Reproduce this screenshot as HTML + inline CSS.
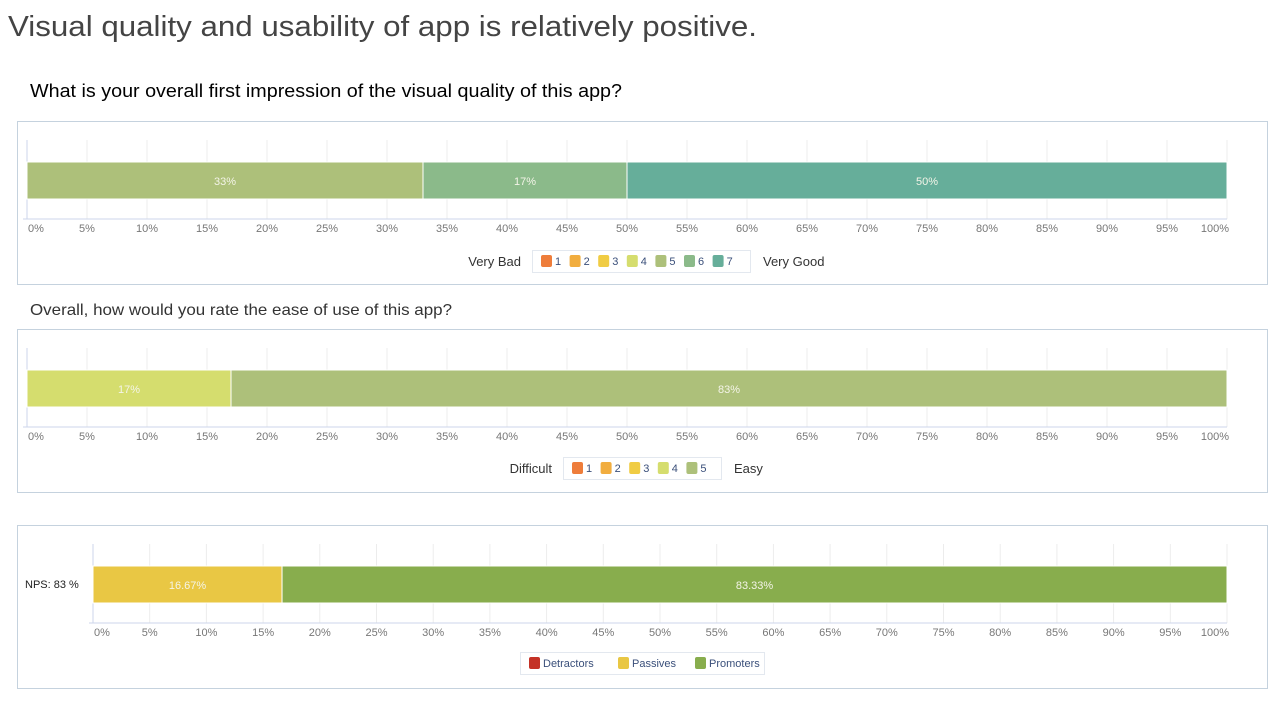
<!DOCTYPE html>
<html><head><meta charset="utf-8"><style>
body{margin:0;width:1288px;height:707px;background:#fff;overflow:hidden;font-family:"Liberation Sans",sans-serif}
svg{display:block}
</style></head><body>
<svg id="s" width="1288" height="707" xmlns="http://www.w3.org/2000/svg">
<text x="8" y="36" font-size="29" fill="#444" textLength="749" lengthAdjust="spacingAndGlyphs">Visual quality and usability of app is relatively positive.</text>
<text x="30" y="97" font-size="18" fill="#000" textLength="592" lengthAdjust="spacingAndGlyphs">What is your overall first impression of the visual quality of this app?</text>
<text x="30" y="315" font-size="16" fill="#333" textLength="422" lengthAdjust="spacingAndGlyphs">Overall, how would you rate the ease of use of this app?</text>
</svg>
<script>
// chart 1
const q1Values=[0,0,0,0,33,17,50];
const q1Labels=["33%","17%","50%"];
const q1Legend=["1","2","3","4","5","6","7"];
// chart 2
const q2Values=[0,0,0,17,83];
const q2Legend=["1","2","3","4","5"];
// chart 3
const npsValues=[0,16.67,83.33];
const npsLegend=["Detractors","Passives","Promoters"];
const ticks=[0,5,10,15,20,25,30,35,40,45,50,55,60,65,70,75,80,85,90,95,100];

const scaleColors=["#ee7d3b","#f1ad3f","#f0cc44","#d5dd6e","#adc07a","#8bba8a","#66ae9a"];
const npsColors=["#c43226","#e9c744","#88ad4d"];
const NS="http://www.w3.org/2000/svg";
const svg=document.getElementById('s');
function el(tag,attrs,parent){const e=document.createElementNS(NS,tag);for(const k in attrs)e.setAttribute(k,attrs[k]);(parent||svg).appendChild(e);return e;}

function chart(cfg){
  const g=el('g',{});
  
  
  const p=el('rect',{x:17.5,y:cfg.top+0.5,width:1250,height:163,fill:'#fff',stroke:'#c5d2de'},g);
  
  
  const x=v=>cfg.x0+(cfg.x1-cfg.x0)*v/100;
  const gy0=cfg.top+19,gy1=cfg.top+98;
  ticks.forEach((t,i)=>{
    const l=el('line',{x1:x(t),x2:x(t),y1:gy0,y2:gy1,stroke:'#ececec'},g);
    
    
    let tx0=x(t),anc='middle';
    if(i===0){tx0=x(t)+1;anc='start';}
    if(i===ticks.length-1){tx0=x(t)+2;anc='end';}
    const tx=el('text',{x:tx0,y:cfg.top+111,'font-size':11,fill:'#777','text-anchor':anc},g);
    tx.textContent=t+'%';
    
    
  });
  el('line',{x1:cfg.x0-4,x2:cfg.x1,y1:gy1,y2:gy1,stroke:'#ccd6eb'},g);
  el('line',{x1:cfg.x0,x2:cfg.x0,y1:gy0,y2:gy1,stroke:'#ccd6eb'},g);
  let acc=0;
  cfg.values.forEach((v,i)=>{
    if(v<=0)return;
    const r=el('rect',{x:x(acc),y:cfg.top+41,width:x(acc+v)-x(acc),height:37,fill:cfg.colors[i],stroke:'#fff','stroke-width':1},g);
    
    
    const t=el('text',{x:(x(acc)+x(acc+v))/2,y:cfg.top+64,'font-size':11,fill:'#f4f4e8','text-anchor':'middle'},g);
    t.textContent=cfg.fmt(v);
    
    
    acc+=v;
  });
  if(cfg.ylabel){
    const t=el('text',{x:25,y:cfg.top+63,'font-size':11,fill:'#222'},g);
    t.textContent=cfg.ylabel;
    
    
  }
  const L=cfg.leg;
  const lb=el('rect',{x:L.bx+0.5,y:L.by+0.5,width:L.bw,height:22,fill:'#fff',stroke:'#e3e8ef'},g);
  
  
  let lx=L.bx+9;
  cfg.legend.forEach((name,i)=>{
    const sw=el('rect',{x:lx,y:L.by+5,width:11,height:12,rx:2,fill:cfg.colors[i]},g);
    
    
    const t=el('text',{x:lx+14,y:L.by+15,'font-size':11,fill:'#3a4f7a'},g);
    t.textContent=name;
    
    
    lx+=L.step(name);
  });
  if(L.left){
    const t=el('text',{x:L.bx-11,y:L.by+16,'font-size':13,fill:'#333','text-anchor':'end'},g);
    t.textContent=L.left;
    
    
    const t2=el('text',{x:L.bx+L.bw+13,y:L.by+16,'font-size':13,fill:'#333'},g);
    t2.textContent=L.right;
    
    
  }
}
chart({name:'visual-quality-chart',top:121,x0:27,x1:1227,values:q1Values,colors:scaleColors,legend:q1Legend,fmt:v=>Math.round(v)+'%',
  leg:{bx:532,by:250,bw:218,left:'Very Bad',right:'Very Good',step:()=>28.6}});
chart({name:'ease-of-use-chart',top:329,x0:27,x1:1227,values:q2Values,colors:scaleColors.slice(0,5),legend:q2Legend,fmt:v=>Math.round(v)+'%',
  leg:{bx:563,by:457,bw:158,left:'Difficult',right:'Easy',step:()=>28.6}});
chart({name:'nps-chart',top:525,x0:93,x1:1227,values:npsValues,colors:npsColors,legend:npsLegend,fmt:v=>v.toFixed(2)+'%',ylabel:'NPS: 83 %',
  leg:{bx:520,by:652,bw:244,step:n=>n.length*6+29}});
</script>
</body></html>
